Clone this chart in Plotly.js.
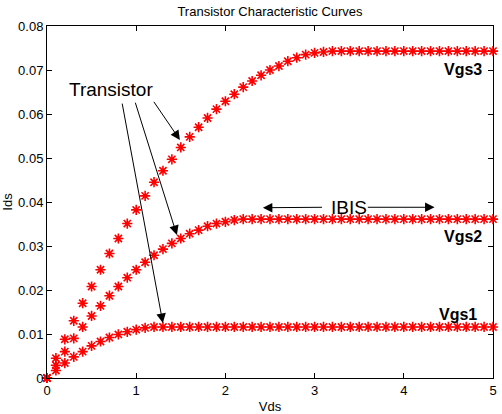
<!DOCTYPE html>
<html>
<head>
<meta charset="utf-8">
<script src="https://cdn.plot.ly/plotly-3.0.1.min.js"></script>
<style>
  html, body { margin: 0; padding: 0; background: #fff; }
  #chart { width: 502px; height: 414px; }
</style>
</head>
<body>
<div id="chart"></div>
<script>
// Drain voltage sweep (V)
const vds = [
  0.0, 0.1, 0.2, 0.3, 0.4, 0.5, 0.6, 0.7, 0.8, 0.9,
  1.0, 1.1, 1.2, 1.3, 1.4, 1.5, 1.6, 1.7, 1.8, 1.9,
  2.0, 2.1, 2.2, 2.3, 2.4, 2.5, 2.6, 2.7, 2.8, 2.9,
  3.0, 3.1, 3.2, 3.3, 3.4, 3.5, 3.6, 3.7, 3.8, 3.9,
  4.0, 4.1, 4.2, 4.3, 4.4, 4.5, 4.6, 4.7, 4.8, 4.9,
  5.0
];

// Drain current (A) for each gate voltage
const idsVgs1 = [
  0, 0.0017, 0.0034, 0.0048, 0.0060, 0.0073, 0.0083, 0.0092, 0.0099, 0.0105,
  0.0110, 0.0114, 0.0116, 0.0116, 0.0116, 0.0116, 0.0116, 0.0116, 0.0116, 0.0116,
  0.0116, 0.0116, 0.0116, 0.0116, 0.0116, 0.0116, 0.0116, 0.0116, 0.0116, 0.0116,
  0.0116, 0.0116, 0.0116, 0.0116, 0.0116, 0.0116, 0.0116, 0.0116, 0.0116, 0.0116,
  0.0116, 0.0116, 0.0116, 0.0116, 0.0116, 0.0116, 0.0116, 0.0116, 0.0116, 0.0116,
  0.0116
];
const idsVgs2 = [
  0, 0.0029, 0.0060, 0.0090, 0.0116, 0.0141, 0.0164, 0.0187, 0.0208, 0.0228,
  0.0246, 0.0263, 0.0279, 0.0293, 0.0306, 0.0317, 0.0328, 0.0336, 0.0345, 0.0351,
  0.0355, 0.0359, 0.0361, 0.0361, 0.0361, 0.0361, 0.0361, 0.0361, 0.0361, 0.0361,
  0.0361, 0.0361, 0.0361, 0.0361, 0.0361, 0.0361, 0.0361, 0.0361, 0.0361, 0.0361,
  0.0361, 0.0361, 0.0361, 0.0361, 0.0361, 0.0361, 0.0361, 0.0361, 0.0361, 0.0361,
  0.0361
];
const idsVgs3 = [
  0, 0.0045, 0.0088, 0.0130, 0.0170, 0.0208, 0.0246, 0.0283, 0.0317, 0.0351,
  0.0382, 0.0414, 0.0445, 0.0471, 0.0497, 0.0524, 0.0548, 0.0570, 0.0591, 0.0611,
  0.0629, 0.0645, 0.0661, 0.0675, 0.0688, 0.0700, 0.0709, 0.0720, 0.0728, 0.0735,
  0.0739, 0.0741, 0.0743, 0.0743, 0.0743, 0.0743, 0.0743, 0.0743, 0.0743, 0.0743,
  0.0743, 0.0743, 0.0743, 0.0743, 0.0743, 0.0743, 0.0743, 0.0743, 0.0743, 0.0743,
  0.0743
];

const seriesNames = ['Vgs1', 'Vgs2', 'Vgs3'];
const seriesData = [idsVgs1, idsVgs2, idsVgs3];

const xTicks = [0, 1, 2, 3, 4, 5];
const yTicks = [0, 0.01, 0.02, 0.03, 0.04, 0.05, 0.06, 0.07, 0.08];
const yTickText = ['0', '0.01', '0.02', '0.03', '0.04', '0.05', '0.06', '0.07', '0.08'];

const FONT = 'Liberation Sans, Arial, Helvetica, sans-serif';

const traces = seriesData.map((ys, i) => ({
  type: 'scatter',
  mode: 'markers',
  name: seriesNames[i],
  x: vds,
  y: ys,
  cliponaxis: false,
  marker: {
    symbol: 'asterisk-open',
    size: 8.5,
    color: '#ff0000',
    line: { color: '#ff1010', width: 1.6 }
  },
  showlegend: false,
  hoverinfo: 'x+y'
}));

// Arrow helper: tail (ax, ay) and tip (x, y) in data units
function arrow(tailX, tailY, tipX, tipY) {
  return {
    x: tipX, y: tipY, ax: tailX, ay: tailY,
    xref: 'x', yref: 'y', axref: 'x', ayref: 'y',
    text: '', showarrow: true,
    arrowhead: 2, arrowsize: 1.9, arrowwidth: 1, arrowcolor: '#000',
    standoff: 0, startstandoff: 0
  };
}

const curveLabel = (txt, x, y) => ({
  x: x, y: y, xref: 'x', yref: 'y', text: '<b>' + txt + '</b>',
  showarrow: false, font: { family: FONT, size: 16, color: '#000' }
});

const annotations = [
  curveLabel('Vgs3', 4.664, 0.0701),
  curveLabel('Vgs2', 4.664, 0.0322),
  curveLabel('Vgs1', 4.607, 0.0144),
  {
    x: 0.723, y: 0.0656, xref: 'x', yref: 'y', text: 'Transistor',
    showarrow: false, font: { family: FONT, size: 19, color: '#000' }
  },
  arrow(1.187, 0.0631, 1.49, 0.0541),
  arrow(0.985, 0.0629, 1.456, 0.0325),
  arrow(0.840, 0.0627, 1.299, 0.0125),
  {
    x: 3.386, y: 0.0388, xref: 'x', yref: 'y', text: 'IBIS',
    showarrow: false, font: { family: FONT, size: 19, color: '#000' }
  },
  arrow(3.10, 0.0388, 2.42, 0.0387),
  arrow(3.58, 0.0388, 4.345, 0.0388)
];

const axisCommon = {
  showgrid: false, zeroline: false,
  showline: true, linecolor: '#000', linewidth: 1,
  mirror: 'ticks', ticks: 'inside', ticklen: 5, tickwidth: 1, tickcolor: '#000',
  tickfont: { family: FONT, size: 13, color: '#000' },
  automargin: false, fixedrange: true
};

const layout = {
  width: 502, height: 414,
  margin: { l: 47, r: 9, t: 26, b: 36 },
  paper_bgcolor: '#fff', plot_bgcolor: '#fff',
  title: {
    text: 'Transistor Characteristic Curves',
    font: { family: FONT, size: 13, color: '#000' },
    x: 0.5, xref: 'paper', xanchor: 'center',
    y: 0.973, yref: 'container', yanchor: 'middle'
  },
  xaxis: Object.assign({}, axisCommon, {
    range: [0, 5], tickvals: xTicks,
    title: { text: 'Vds', font: { family: FONT, size: 13, color: '#000' }, standoff: 7 }
  }),
  yaxis: Object.assign({}, axisCommon, {
    range: [0, 0.08], tickvals: yTicks, ticktext: yTickText,
    title: { text: 'Ids', font: { family: FONT, size: 13, color: '#000' }, standoff: 12 }
  }),
  annotations: annotations,
  showlegend: false
};

Plotly.newPlot('chart', traces, layout, { displayModeBar: false, staticPlot: true });
</script>
</body>
</html>
